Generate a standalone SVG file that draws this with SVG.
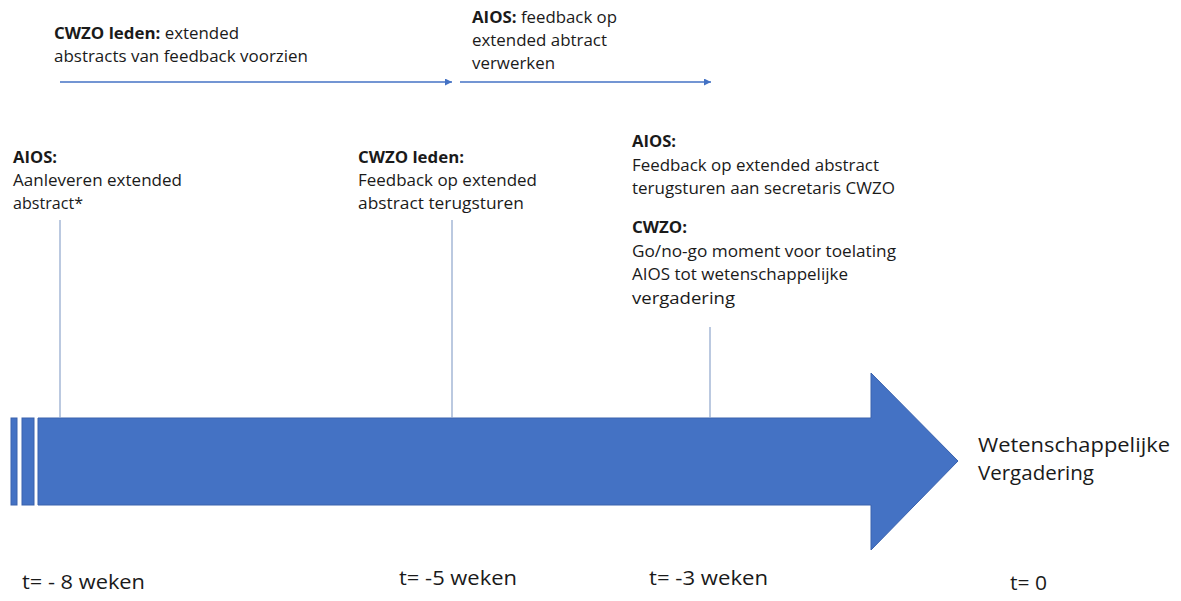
<svg xmlns="http://www.w3.org/2000/svg" width="1181" height="601" viewBox="0 0 1181 601">
<style>
text{font-family:"Open Sans","Liberation Sans",sans-serif;fill:#1a1a1a}
.s{font-size:15.5px}
.b{font-weight:bold}
.l{font-size:20px}
.tick{stroke:#8ea5cc;stroke-width:1.2;fill:none}
.flow{stroke:#4472c4;stroke-width:1.3;fill:none}
.bar{fill:#4472c4;stroke:#3a62ad;stroke-width:1}
</style>
<defs>
<marker id="ah" viewBox="0 0 10 10" refX="10" refY="5" markerWidth="7" markerHeight="7" markerUnits="userSpaceOnUse" orient="auto">
<path d="M0,0 L10,5 L0,10 Z" fill="#4472c4"/>
</marker>
</defs>
<rect width="1181" height="601" fill="#ffffff"/>

<g id="timeline">
<rect class="bar" x="11" y="418" width="6" height="87"/>
<rect class="bar" x="22" y="418" width="12" height="87"/>
<path class="bar" d="M38,418 L871,418 L871,373 L958,461 L871,550 L871,505 L38,505 Z"/>
</g>

<g id="connectors">
<line class="flow" x1="60" y1="82" x2="452" y2="82" marker-end="url(#ah)"/>
<line class="flow" x1="460" y1="82" x2="711" y2="82" marker-end="url(#ah)"/>
<line class="tick" x1="60" y1="220" x2="60" y2="418"/>
<line class="tick" x1="452" y1="220" x2="452" y2="418"/>
<line class="tick" x1="710" y1="327" x2="710" y2="418"/>
</g>

<g id="top-left">
<text class="s" x="54" y="39" textLength="185" lengthAdjust="spacingAndGlyphs"><tspan class="b">CWZO leden:</tspan> extended</text>
<text class="s" x="54" y="62" textLength="254" lengthAdjust="spacingAndGlyphs">abstracts van feedback voorzien</text>
</g>

<g id="top-right">
<text class="s" x="472" y="23" textLength="145" lengthAdjust="spacingAndGlyphs"><tspan class="b">AIOS:</tspan> feedback op</text>
<text class="s" x="472" y="46" textLength="135" lengthAdjust="spacingAndGlyphs">extended abtract</text>
<text class="s" x="472" y="69" textLength="83" lengthAdjust="spacingAndGlyphs">verwerken</text>
</g>

<g id="node-aios-aanleveren">
<text class="s b" x="13" y="163" textLength="44" lengthAdjust="spacingAndGlyphs">AIOS:</text>
<text class="s" x="13" y="186" textLength="169" lengthAdjust="spacingAndGlyphs">Aanleveren extended</text>
<text class="s" x="13" y="209" textLength="70" lengthAdjust="spacingAndGlyphs">abstract*</text>
</g>

<g id="node-cwzo-feedback">
<text class="s b" x="358" y="163" textLength="106" lengthAdjust="spacingAndGlyphs">CWZO leden:</text>
<text class="s" x="358" y="186" textLength="179" lengthAdjust="spacingAndGlyphs">Feedback op extended</text>
<text class="s" x="358" y="209" textLength="166" lengthAdjust="spacingAndGlyphs">abstract terugsturen</text>
</g>

<g id="node-aios-terugsturen">
<text class="s b" x="632" y="147" textLength="44" lengthAdjust="spacingAndGlyphs">AIOS:</text>
<text class="s" x="632" y="171" textLength="247" lengthAdjust="spacingAndGlyphs">Feedback op extended abstract</text>
<text class="s" x="632" y="194" textLength="263" lengthAdjust="spacingAndGlyphs">terugsturen aan secretaris CWZO</text>
<text class="s b" x="632" y="233" textLength="55" lengthAdjust="spacingAndGlyphs">CWZO:</text>
<text class="s" x="632" y="257" textLength="264" lengthAdjust="spacingAndGlyphs">Go/no-go moment voor toelating</text>
<text class="s" x="632" y="280" textLength="216" lengthAdjust="spacingAndGlyphs">AIOS tot wetenschappelijke</text>
<text class="s" x="632" y="304" textLength="103" lengthAdjust="spacingAndGlyphs">vergadering</text>
</g>

<g id="node-vergadering">
<text class="l" x="978" y="452" textLength="192" lengthAdjust="spacingAndGlyphs">Wetenschappelijke</text>
<text class="l" x="978" y="480" textLength="116" lengthAdjust="spacingAndGlyphs">Vergadering</text>
</g>

<g id="time-labels">
<text class="l" x="22" y="589" textLength="123" lengthAdjust="spacingAndGlyphs">t= - 8 weken</text>
<text class="l" x="399" y="585" textLength="118" lengthAdjust="spacingAndGlyphs">t= -5 weken</text>
<text class="l" x="649" y="585" textLength="119" lengthAdjust="spacingAndGlyphs">t= -3 weken</text>
<text class="l" x="1010" y="590" textLength="37" lengthAdjust="spacingAndGlyphs">t= 0</text>
</g>
</svg>
